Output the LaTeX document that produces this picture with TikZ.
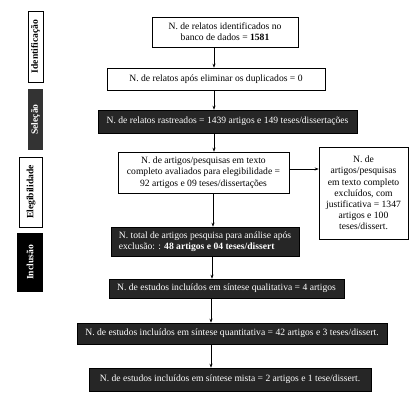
\documentclass[tikz,border=0pt]{standalone}
\usepackage{fontspec}
\setmainfont{Liberation Serif}
\usetikzlibrary{arrows.meta}
\definecolor{darkbox}{HTML}{262626}
\definecolor{selbox}{HTML}{333333}
\begin{document}
\begin{tikzpicture}[x=1pt,y=-1pt,
  every node/.style={inner sep=1pt, font=\fontsize{9.6}{11.2}\selectfont},
  whitebox/.style={draw=black, line width=0.6pt, fill=white, rectangle, align=center},
  darkboxs/.style={draw=black, line width=0.6pt, fill=darkbox, text=white, rectangle, align=center},
  sidew/.style={draw=black, line width=0.6pt, fill=white, rotate=90, font=\fontsize{9.6}{10}\selectfont\bfseries},
  sided/.style={draw=none, rotate=90, text=white, font=\fontsize{9.6}{10}\selectfont\bfseries},
  arr/.style={-{Stealth[length=4pt,width=3pt]}, line width=0.6pt}
]
\useasboundingbox[fill=white] (0,0) rectangle (419,400);
% side labels
\node[sidew, minimum width=71, minimum height=15] (lid) at (35.5,46.5) {Identificação};
\node[sided, fill=selbox, minimum width=61, minimum height=15] (lsel) at (35.5,119.5) {Seleção};
\node[sidew, minimum width=70, minimum height=23] (lele) at (31,192) {Elegibilidade};
\node[sided, fill=black, minimum width=59, minimum height=26] (linc) at (30,262.5) {Inclusão};
% main boxes
\node[whitebox, minimum width=146, minimum height=30] (b1) at (225,32) {N. de relatos identificados no\\banco de dados = \textbf{1581}};
\node[whitebox, minimum width=218, minimum height=22] (b2) at (216,79) {N. de relatos após eliminar os duplicados = 0};
\node[darkboxs, minimum width=259, minimum height=23] (b3) at (227.5,121.5) {N. de relatos rastreados = 1439 artigos e 149 teses/dissertações};
\node[whitebox, minimum width=171, minimum height=41] (b4) at (203.5,172.5) {N. de artigos/pesquisas em texto\\completo avaliados para elegibilidade =\\92 artigos e 09 teses/dissertações};
\node[whitebox, minimum width=89, minimum height=92] (b5) at (363.5,193) {N. de\\artigos/pesquisas\\em texto completo\\excluídos, com\\justificativa = 1347\\artigos e 100\\teses/dissert.};
\node[darkboxs, align=left, minimum width=188, minimum height=29] (b6) at (205,241.5) {N. total de artigos pesquisa para análise após\\exclusão: : \textbf{48 artigos e 04 teses/dissert}};
\node[darkboxs, minimum width=235, minimum height=19] (b7) at (226.5,288.5) {N. de estudos incluídos em síntese qualitativa = 4 artigos};
\node[darkboxs, minimum width=310, minimum height=21] (b8) at (232,333.5) {N. de estudos incluídos em síntese quantitativa = 42 artigos e 3 teses/dissert.};
\node[darkboxs, minimum width=282, minimum height=23] (b9) at (230,379.5) {N. de estudos incluídos em síntese mista = 2 artigos e 1 tese/dissert.};
% spine coordinates
\coordinate (s1) at (214,0);
\coordinate (s2) at (213,0);
\coordinate (s3) at (212,0);
\coordinate (s4) at (211,0);
\coordinate (h1) at (0,169);
\draw[arr] (b1.south -| s1) -- (b2.north -| s1);
\draw[arr] (b2.south -| s1) -- (b3.north -| s1);
\draw[arr] (b3.south -| s1) -- (b4.north -| s1);
\draw[arr] (b4.south -| s2) -- (b6.north -| s2);
\draw[arr] (b6.south -| s3) -- (b7.north -| s3);
\draw[arr] (b7.south -| s4) -- (b8.north -| s4);
\draw[arr] (b8.south -| s4) -- (b9.north -| s4);
\draw[arr] (b4.east |- h1) -- (b5.west |- h1);
\end{tikzpicture}
\end{document}
